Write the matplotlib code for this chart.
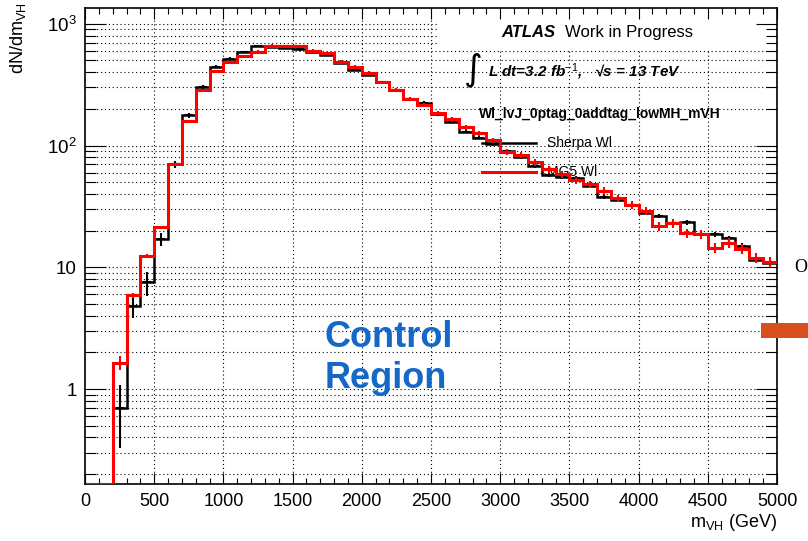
import numpy as np
import matplotlib
matplotlib.use("Agg")
import matplotlib.pyplot as plt
from matplotlib.ticker import MultipleLocator, LogLocator, NullFormatter
from matplotlib.patches import Rectangle

plt.rcParams['font.family'] = ['Liberation Sans', 'DejaVu Sans']
plt.rcParams['mathtext.fontset'] = 'custom'
plt.rcParams['mathtext.rm'] = 'Liberation Sans'
plt.rcParams['mathtext.it'] = 'Liberation Sans:italic'
plt.rcParams['mathtext.bf'] = 'Liberation Sans:bold'

# m_VH binning, 100 GeV bins from 0 to 5000
edges = np.arange(0, 5001, 100)

# Sherpa Wl
sherpa = [0, 0, 0.70, 4.84, 7.5, 17.0, 70, 177, 303, 445,
          515, 588, 658, 650, 636, 618, 591, 558, 475, 418,
          380, 331, 286, 241, 225, 181, 157, 130, 116, 103,
          91, 80, 68, 57, 55.6, 54, 46.5, 38, 35.7, 32.5,
          28.1, 26.4, 23, 23.4, 18.8, 18.7, 17.3, 15.0, 11.5, 10.9]
sherpa_err = [0, 0, 0.37, 1.0, 1.7, 2.1, 5, 9, 12, 14,
              14, 15, 17, 17, 16, 16, 15, 14, 12, 11,
              9, 8, 7, 6, 6, 5, 4.5, 4, 3.5, 3.2,
              3, 2.7, 2.4, 2.1, 2.0, 2.0, 1.8, 1.5, 1.4, 1.3,
              1.2, 1.1, 1.0, 1.0, 0.9, 0.9, 0.8, 0.7, 0.6, 0.6]

# MG5 Wl
mg5 = [0, 0, 1.64, 5.89, 12.4, 21.4, 70.6, 159, 284, 408,
       483, 545, 591, 662, 656, 658, 602, 573, 489, 445,
       393, 331, 286, 241, 216, 184, 164, 141, 126, 110,
       89, 83.7, 73, 64, 58.4, 52, 48.4, 42.4, 36.9, 32.5,
       29.2, 21.8, 23, 19, 18.8, 14.5, 15.9, 14.1, 12.0, 11.1]
mg5_err = [0, 0, 0.22, 0.25, 0.35, 0.5, 1.8, 4, 7, 10,
           12, 13, 14, 16, 16, 16, 15, 14, 12, 11,
           13, 11, 10, 9, 8, 7, 6.5, 6, 5.5, 5,
           5, 5, 4.5, 4, 3.8, 3.5, 3.2, 2.9, 2.6, 2.3,
           2.1, 1.9, 1.9, 1.6, 1.6, 1.3, 1.4, 1.3, 1.1, 1.0]

ytick_vals = [1, 10, 100, 1000]
ytick_labels = ['1', '10', '$10^{2}$', '$10^{3}$']

W, H = 808, 541
ymin, ymax = 0.165, 1340


def fx(px):
    return px / W


def fy(py):
    return 1 - py / H


fig = plt.figure(figsize=(W / 100, H / 100), dpi=100)
ax = fig.add_axes([fx(85), fy(484.3), (777 - 85) / W, (484.3 - 8.3) / H])
ax.set_yscale('log')
ax.set_xlim(0, 5000)
ax.set_ylim(ymin, ymax)

# dotted grid, below everything else
dots = (0, (1, 2.5))
for x in range(500, 5000, 500):
    ax.axvline(x, color='k', lw=0.8, ls=dots, zorder=0.5)
for e in range(-1, 4):
    for m in range(1, 10):
        y = m * 10.0 ** e
        if ymin < y < ymax:
            ax.axhline(y, color='k', lw=0.8, ls=dots, zorder=0.5)

# white box behind the ATLAS label
ax.add_patch(Rectangle((fx(437), fy(50)), (777 - 437) / W, (50 - 8.3) / H,
                       transform=fig.transFigure, facecolor='white',
                       edgecolor='none', zorder=0.8, clip_on=False))

centers = 0.5 * (edges[:-1] + edges[1:])


def draw_hist(vals, errs, color, lw):
    vals = np.array(vals, dtype=float)
    errs = np.array(errs, dtype=float)
    # empty bins sit on the bottom of the frame
    ax.stairs(np.where(vals > 0, vals, ymin * 1.01), edges, baseline=None,
              color=color, lw=lw, zorder=5)
    ok = vals > 0
    ax.errorbar(centers[ok], vals[ok], yerr=errs[ok], fmt='none', ecolor=color,
                elinewidth=1.5, capsize=0, zorder=5)
    ax.plot(centers[ok], vals[ok], ls='none', marker='_', ms=6, mew=1.5,
            color=color, zorder=5)


draw_hist(sherpa, sherpa_err, 'black', 1.8)
draw_hist(mg5, mg5_err, '#ff0000', 2.2)

# ticks
ax.xaxis.set_major_locator(MultipleLocator(500))
ax.xaxis.set_minor_locator(MultipleLocator(100))
ax.set_yticks(ytick_vals)
ax.set_yticklabels(ytick_labels)
ax.yaxis.set_minor_locator(LogLocator(base=10, subs=range(2, 10)))
ax.yaxis.set_minor_formatter(NullFormatter())
ax.tick_params(axis='x', which='major', direction='in', length=8, width=0.8,
               top=True, labelsize=13, pad=6)
ax.tick_params(axis='x', which='minor', direction='in', length=4.5, width=0.8, top=True)
ax.tick_params(axis='y', which='major', direction='in', length=15, width=0.8,
               right=True, labelsize=13.5, pad=6)
ax.tick_params(axis='y', which='minor', direction='in', length=8, width=0.8, right=True)
for s in ax.spines.values():
    s.set_linewidth(1.2)
    s.set_zorder(4)

# axis titles
fig.text(fx(18), fy(2), r'dN/dm$_{\mathrm{VH}}$', rotation=90, ha='center', va='top', size=13)
fig.text(fx(777), fy(527), r'm$_{\mathrm{VH}}$ (GeV)', ha='right', va='baseline', size=13)

# labels inside the frame
tf = fig.transFigure
ax.text(fx(501), fy(37), 'ATLAS', transform=tf, size=12, weight='bold',
        style='italic', va='baseline', zorder=2)
ax.text(fx(565), fy(37), 'Work in Progress', transform=tf, size=12,
        va='baseline', zorder=2)
ax.text(fx(473), fy(70), '\u222b', transform=tf, size=26,
        family=['DejaVu Sans', 'Noto Sans'], ha='center', va='center', zorder=2)
ax.text(fx(488), fy(76), 'L dt=3.2 fb$^{-1}$,   \u221as = 13 TeV', transform=tf,
        size=11, weight='bold', style='italic', va='baseline', zorder=2)
ax.text(fx(479), fy(118), 'Wl_lvJ_0ptag_0addtag_lowMH_mVH', transform=tf,
        size=10, weight='bold', va='baseline', zorder=2)

# legend
ax.plot([fx(482), fx(536)], [fy(142.7), fy(142.7)], color='black', lw=1.8,
        transform=tf, zorder=2, clip_on=False)
ax.text(fx(547), fy(143), 'Sherpa Wl', transform=tf, size=10, va='center', zorder=2)
ax.plot([fx(482), fx(536)], [fy(172), fy(172)], color='#ff0000', lw=2.2,
        transform=tf, zorder=2, clip_on=False)
ax.text(fx(547), fy(172), 'MG5 Wl', transform=tf, size=10, va='center', zorder=2)

# region label
ax.text(fx(325), fy(347), 'Control', transform=tf, size=26, weight='bold',
        color='#1469c8', va='baseline', zorder=6)
ax.text(fx(325), fy(388), 'Region', transform=tf, size=26, weight='bold',
        color='#1469c8', va='baseline', zorder=6)

# bits of the slide around the plot
fig.add_artist(Rectangle((fx(761), fy(338)), (808 - 761) / W, 15 / H, transform=tf,
                         facecolor='#d94e1f', edgecolor='none'))
fig.text(fx(794), fy(268), 'O', family='Liberation Serif', size=13,
         ha='left', va='center')

fig.savefig('out.png', dpi=100)
